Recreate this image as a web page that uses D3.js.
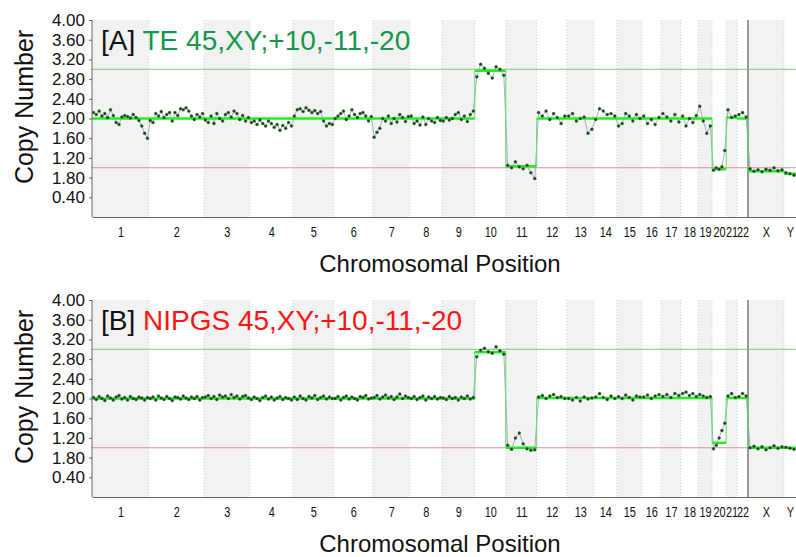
<!DOCTYPE html>
<html>
<head>
<meta charset="utf-8">
<script src="https://cdn.jsdelivr.net/npm/d3@7"></script>
<style>
  body { margin: 0; background: #fff; }
  svg { display: block; font-family: "Liberation Sans", Arial, sans-serif; }
  .tick line { stroke: #666; }
  .domain { stroke: #666; }
</style>
</head>
<body>
<svg id="chart"></svg>
<script>
// chromosome names and lengths (Mb, as laid out in the picture)
const chromosomes = ["1","2","3","4","5","6","7","8","9","10","11","12","13","14","15","16","17","18","19","20","21","22","X","Y"];
const chromLengths = [250, 242, 202, 189, 180, 171, 163, 141, 145, 136, 136, 132, 119, 101, 110, 84, 88, 75, 62, 62, 48, 48, 158, 53];

const yTickValues = [0.4, 0.8, 1.2, 1.6, 2.0, 2.4, 2.8, 3.2, 3.6, 4.0];
const yTickLabels = ["0.40", "1.80", "1.20", "1.60", "2.00", "2.40", "2.80", "3.20", "3.60", "4.00"];

// copy number bins per chromosome, panel A (TE)
const binsA = [
  [2.12,2.08,2.15,2.05,2.10,2.02,2.18,2.06,1.92,1.88,2.03,2.06,2.04,2.01,2.08,2.02,1.96,1.85,1.70,1.60],
  [1.96,1.92,2.10,2.05,2.14,2.02,2.08,2.12,1.95,2.12,2.06,2.20,2.18,2.22,2.15,2.05,1.98,2.08,2.03,2.10],
  [1.97,1.92,2.05,1.90,2.10,2.00,1.95,2.08,2.12,2.03,2.15,2.10,1.98,2.06,1.95,2.02],
  [1.92,1.95,1.88,1.97,1.90,1.85,1.95,1.90,1.82,1.88,1.76,1.86,1.80,1.92,1.85],
  [2.05,2.18,2.20,2.14,2.22,2.17,2.12,2.16,2.10,2.14,1.95,1.85,1.90,1.88],
  [2.00,2.05,2.10,2.15,1.98,2.05,2.18,2.08,2.02,2.10,2.12,2.05,1.95,2.04],
  [1.62,1.72,1.80,2.00,1.95,2.05,1.90,2.00,1.93,2.08,2.02,1.94,2.04],
  [2.05,1.90,1.95,1.87,2.03,1.88,2.00,1.95,1.92,2.02,1.96],
  [1.95,2.02,1.97,2.00,2.08,2.12,1.98,2.05,1.94,2.08,2.15],
  [2.85,3.10,3.02,2.92,2.82,3.05,3.00,2.88],
  [1.05,1.00,1.12,1.02,0.98,1.05,0.90,0.78],
  [2.12,2.05,2.15,1.98,2.10,2.02,1.90,2.05],
  [2.05,2.10,1.95,2.00,2.03,1.70,1.78],
  [1.98,2.20,2.15,2.08,2.10,2.05],
  [1.85,1.90,2.10,2.05,1.95,2.08,2.00],
  [2.05,1.90,1.98,1.88,2.02],
  [2.10,2.03,1.95,2.08,1.93],
  [2.05,1.85,2.00,1.92,2.06],
  [2.25,1.95,1.70,1.85],
  [0.95,1.00,0.97,1.02,1.35],
  [2.18,2.02,2.05],
  [2.08,2.12,2.03],
  [0.98,0.93,0.96,0.92,0.97,0.95,1.00,0.94,0.96],
  [0.90,0.88,0.85]
];

// copy number bins per chromosome, panel B (NIPGS)
const binsB = [
  [2.02,1.98,2.04,2.00,1.96,2.05,2.01,1.97,2.03,2.06,1.99,2.02,1.97,2.04,2.00,1.98,2.03,2.01,1.97,2.02],
  [2.00,2.03,1.97,2.05,2.01,1.98,2.04,2.00,1.96,2.03,2.02,1.99,2.05,2.01,1.98,2.03,2.00,2.04,1.97,2.02],
  [2.03,2.06,2.00,2.04,1.98,2.07,2.03,2.05,2.00,2.08,2.02,2.05,1.99,2.04,2.06,2.01],
  [1.98,2.03,2.00,1.96,2.02,2.05,1.99,2.03,1.97,2.01,2.04,1.98,2.02,2.00,1.97],
  [2.03,1.98,2.05,2.00,1.97,2.04,2.01,2.06,1.98,2.02,2.05,1.99,2.03,2.00],
  [2.00,2.04,1.97,2.02,2.05,1.99,2.03,2.00,1.97,2.04,2.02,2.06,1.99,2.01],
  [2.02,2.06,1.99,2.03,2.07,2.01,2.04,1.98,2.03,2.09,2.00,2.05,2.02],
  [2.00,2.04,1.98,2.02,2.05,1.97,2.03,2.00,2.04,1.99,2.02],
  [2.01,1.98,2.04,2.00,2.02,1.97,2.03,2.00,2.05,1.99,2.02],
  [2.85,2.98,3.02,2.95,2.92,3.05,2.97,2.90],
  [1.05,0.97,1.20,1.30,1.08,0.98,0.95,0.96],
  [2.03,2.06,2.00,2.05,2.08,2.02,2.04,2.00],
  [2.00,1.97,2.02,1.95,2.03,1.99,2.01],
  [2.03,2.10,2.02,1.98,2.05,2.00],
  [2.04,2.00,2.07,2.02,1.97,2.05,2.03],
  [2.03,2.07,2.00,2.05,2.08],
  [2.04,2.08,2.02,2.10,2.06],
  [2.10,2.13,2.06,2.10,2.04],
  [2.08,2.05,2.02,2.04],
  [0.98,1.05,1.20,1.35,1.50],
  [2.05,2.10,2.02],
  [2.04,2.10,2.05],
  [1.00,1.03,0.98,1.02,0.96,1.00,1.04,0.99,1.02],
  [1.01,0.99,0.97]
];

// segmentation calls: [first chromosome, last chromosome, copy number]
const segmentsA = [["1","9",2.0],["10","10",2.97],["11","11",1.03],["12","19",2.0],["20","20",0.97],["21","21",2.02],["22","22",2.0],["X","X",0.93],["Y","Y",0.88]];
const segmentsB = [["1","9",2.0],["10","10",2.94],["11","11",1.0],["12","19",2.01],["20","20",1.1],["21","22",2.01],["X","Y",1.0]];

const width = 796, height = 557;
const svg = d3.select('#chart').attr('width', width).attr('height', height);

// cumulative chromosome starts
const chromStart = {};
const chromEnd = {};
let acc = 0;
chromosomes.forEach((c, i) => { chromStart[c] = acc; acc += chromLengths[i]; chromEnd[c] = acc; });
const genomeLength = acc;

const xScale = d3.scaleLinear().domain([0, genomeLength]).range([92, 796]);

function drawPanel(top, label, title, titleColor, bins, segments) {
  const yScale = d3.scaleLinear().domain([0, 4]).range([top + 197, top]);
  const g = svg.append('g');

  // alternating chromosome bands
  g.selectAll('rect.band')
    .data(chromosomes.filter((c, i) => i % 2 === 0))
    .join('rect')
    .attr('class', 'band')
    .attr('x', c => xScale(chromStart[c]))
    .attr('width', c => xScale(chromEnd[c]) - xScale(chromStart[c]))
    .attr('y', yScale(4))
    .attr('height', yScale(0) - yScale(4))
    .attr('fill', '#f2f2f2');

  // dotted boundaries
  g.selectAll('line.bound')
    .data(chromosomes.slice(1))
    .join('line')
    .attr('x1', c => xScale(chromStart[c]))
    .attr('x2', c => xScale(chromStart[c]))
    .attr('y1', yScale(4))
    .attr('y2', yScale(0))
    .attr('stroke', c => c === 'X' ? '#999' : '#d4d4d4')
    .attr('stroke-width', c => c === 'X' ? 2 : 1)
    .attr('stroke-dasharray', c => c === 'X' ? null : '1,2');

  // reference lines at 3 and 1 copies
  g.append('line')
    .attr('x1', xScale(0)).attr('x2', xScale(genomeLength))
    .attr('y1', yScale(3)).attr('y2', yScale(3))
    .attr('stroke', '#7cc47c').attr('stroke-width', 1);
  g.append('line')
    .attr('x1', xScale(0)).attr('x2', xScale(genomeLength))
    .attr('y1', yScale(1)).attr('y2', yScale(1))
    .attr('stroke', '#d691a0').attr('stroke-width', 1);

  // place bins evenly inside each chromosome
  const points = [];
  chromosomes.forEach((c, i) => {
    const vals = bins[i];
    vals.forEach((v, j) => {
      points.push({ pos: chromStart[c] + (j + 0.5) / vals.length * chromLengths[i], cn: v });
    });
  });

  const line = d3.line().x(d => xScale(d.pos)).y(d => yScale(d.cn));
  g.append('path')
    .attr('d', line(points))
    .attr('fill', 'none')
    .attr('stroke', '#8a8ab8')
    .attr('stroke-width', 0.7);

  // segment calls
  segments.forEach((s, i) => {
    const x0 = xScale(chromStart[s[0]]), x1 = xScale(chromEnd[s[1]]);
    g.append('line')
      .attr('x1', x0).attr('x2', x1)
      .attr('y1', yScale(s[2])).attr('y2', yScale(s[2]))
      .attr('stroke', '#22ee22').attr('stroke-width', 2.5);
    if (i > 0) {
      g.append('line')
        .attr('x1', x0).attr('x2', x0)
        .attr('y1', yScale(segments[i - 1][2])).attr('y2', yScale(s[2]))
        .attr('stroke', '#66dd66').attr('stroke-width', 1);
    }
  });

  g.selectAll('circle.bin')
    .data(points)
    .join('circle')
    .attr('class', 'bin')
    .attr('cx', d => xScale(d.pos))
    .attr('cy', d => yScale(d.cn))
    .attr('r', 1.5)
    .attr('fill', '#1d3b1d')
    .attr('stroke', '#3c8c3c')
    .attr('stroke-width', 0.4);

  // axes
  const yAxis = d3.axisLeft(yScale)
    .tickValues(yTickValues)
    .tickFormat((d, i) => yTickLabels[i])
    .tickSize(3)
    .tickPadding(4);
  const yAxisG = g.append('g').attr('transform', `translate(${xScale(0)},0)`).call(yAxis);
  yAxisG.select('.domain').attr('d', `M0,${yScale(4)}V${yScale(0)}`);
  yAxisG.selectAll('text').style('font-size', '17px').attr('fill', '#111');

  const xAxis = d3.axisBottom(xScale)
    .tickValues(chromosomes.map(c => (chromStart[c] + chromEnd[c]) / 2))
    .tickFormat((d, i) => chromosomes[i])
    .tickSize(0)
    .tickPadding(10);
  const xAxisG = g.append('g').attr('transform', `translate(0,${yScale(0)})`).call(xAxis);
  // narrow the chromosome labels like the original condensed font
  xAxisG.selectAll('text')
    .style('font-size', '14px')
    .attr('transform', 'scale(0.78,1)')
    .attr('fill', '#111');

  // axis titles
  g.append('text')
    .attr('transform', `translate(33,${top + 87}) rotate(-90)`)
    .attr('text-anchor', 'middle')
    .style('font-size', '25px')
    .attr('fill', '#111')
    .text('Copy Number');
  g.append('text')
    .attr('x', 440)
    .attr('y', top + 252)
    .attr('text-anchor', 'middle')
    .style('font-size', '24px')
    .attr('fill', '#111')
    .text('Chromosomal Position');

  // panel title
  const t = g.append('text')
    .attr('x', 101)
    .attr('y', top + 30)
    .style('font-size', '28px');
  t.append('tspan').attr('fill', '#111').text(label + ' ');
  t.append('tspan').attr('fill', titleColor).text(title);
}

drawPanel(20, '[A]', 'TE 45,XY;+10,-11,-20', '#14984a', binsA, segmentsA);
drawPanel(300, '[B]', 'NIPGS 45,XY;+10,-11,-20', '#ff1414', binsB, segmentsB);
</script>
</body>
</html>
